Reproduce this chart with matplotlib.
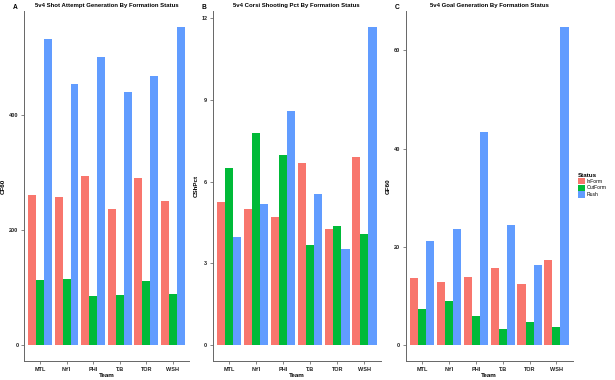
import numpy as np
import matplotlib
matplotlib.use('Agg')
import matplotlib.pyplot as plt
from matplotlib.patches import Patch

plt.rcParams['font.family'] = ['Liberation Sans', 'DejaVu Sans']

teams = ['MTL', 'NYI', 'PHI', 'T.B', 'TOR', 'WSH']
statuses = ['InForm', 'OutForm', 'Rush']

# panel A: CF60
cf60_inform = [261, 258, 294, 236, 290, 250]
cf60_outform = [113, 115, 85, 87, 112, 89]
cf60_rush = [532, 454, 501, 440, 468, 553]

# panel B: CShPct
csh_inform = [5.25, 4.99, 4.69, 6.68, 4.26, 6.92]
csh_outform = [6.50, 7.78, 6.99, 3.68, 4.37, 4.08]
csh_rush = [3.98, 5.17, 8.60, 5.55, 3.52, 11.68]

# panel C: GF60
gf60_inform = [13.7, 12.9, 13.8, 15.6, 12.4, 17.3]
gf60_outform = [7.3, 9.0, 6.0, 3.2, 4.8, 3.6]
gf60_rush = [21.3, 23.6, 43.3, 24.5, 16.4, 64.8]

colors = ['#F8766D', '#00BA38', '#619CFF']

panels = [
    ('A', '5v4 Shot Attempt Generation By Formation Status', 'CF60',
     [cf60_inform, cf60_outform, cf60_rush], [0, 200, 400]),
    ('B', '5v4 Corsi Shooting Pct By Formation Status', 'CShPct',
     [csh_inform, csh_outform, csh_rush], [0, 3, 6, 9, 12]),
    ('C', '5v4 Goal Generation By Formation Status', 'GF60',
     [gf60_inform, gf60_outform, gf60_rush], [0, 20, 40, 60]),
]

# axes boxes in figure fractions [left, bottom, width, height]
boxes = [
    [0.039, 0.050, 0.268, 0.921],
    [0.346, 0.050, 0.273, 0.921],
    [0.660, 0.050, 0.271, 0.921],
]

fig = plt.figure(figsize=(6.15, 3.8), dpi=100)
x = np.arange(1, len(teams) + 1)
w = 0.3

for (tag, title, ylab, series, yticks), box in zip(panels, boxes):
    ax = fig.add_axes(box)
    for i, vals in enumerate(series):
        ax.bar(x + (i - 1) * w, vals, width=w, color=colors[i],
               edgecolor='none')
    ymax = max(max(s) for s in series)
    ax.set_ylim(-0.05 * ymax, 1.05 * ymax)
    ax.set_xlim(0.4, 6.6)
    ax.set_xticks(x)
    ax.set_xticklabels(teams)
    ax.set_yticks(yticks)
    ax.tick_params(labelsize=4, length=2, width=0.5, pad=2,
                   colors='#555555', labelcolor='#222222')
    for lbl in ax.get_xticklabels() + ax.get_yticklabels():
        lbl.set_fontweight('bold')
    for s in ['top', 'right']:
        ax.spines[s].set_visible(False)
    for s in ['left', 'bottom']:
        ax.spines[s].set_color('#666666')
        ax.spines[s].set_linewidth(0.7)
    ax.set_xlabel('Team', fontsize=4.5, fontweight='bold', labelpad=1)
    ax.set_ylabel(ylab, fontsize=4.5, fontweight='bold', labelpad=2)
    ax.set_title(title, fontsize=4.35, fontweight='bold', pad=3)
    ax.text(-0.055, 1.0, tag, transform=ax.transAxes, fontsize=4.8,
            fontweight='bold', va='bottom', ha='center')

handles = [Patch(facecolor=c, edgecolor='none') for c in colors]
leg = fig.legend(handles, statuses, title='Status', loc='upper left',
                 bbox_to_anchor=(0.934, 0.555), frameon=False,
                 fontsize=3.6, title_fontsize=4.5, handlelength=1.5,
                 handleheight=1.6, handletextpad=0.3, labelspacing=0.05,
                 borderpad=0.2)
leg.get_title().set_fontweight('bold')
leg._legend_box.align = 'left'

plt.savefig('out.png', dpi=100)
